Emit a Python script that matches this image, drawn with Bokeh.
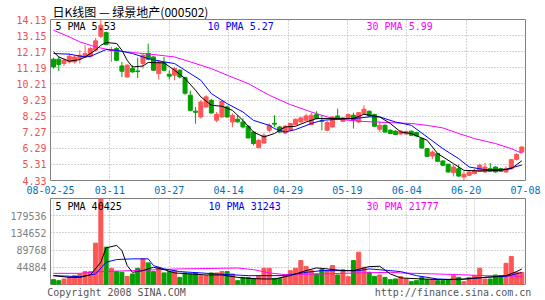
from bokeh.plotting import figure
from bokeh.models import (Range1d, FixedTicker, Label, Grid, LinearAxis,
                          PrintfTickFormatter, CustomJSTickFormatter)
from bokeh.layouts import column
from bokeh.embed import file_html
from bokeh.resources import INLINE

title_text = "日K线图 — 绿景地产(000502)"
footer_texts = ["Copyright 2008 SINA.COM", "http://finance.sina.com.cn"]
date_labels = ["08-02-25", "03-11", "03-27", "04-14", "04-29", "05-19", "06-04", "06-20", "07-08"]
price_ticks = [4.33, 5.31, 6.29, 7.27, 8.25, 9.23, 10.21, 11.19, 12.17, 13.15, 14.13]
volume_ticks = [44884, 89768, 134652, 179536]
volume_max = 224420
price_legend = ["5 PMA 5.53", "10 PMA 5.27", "30 PMA 5.99"]
volume_legend = ["5 PMA 40425", "10 PMA 31243", "30 PMA 21777"]

opens = [11.71, 11.71, 11.45, 11.55, 11.55, 11.75, 11.85, 11.89, 12.26, 13.11,
         13.33, 12.22, 12.36, 11.30, 10.63, 11.14, 11.00, 11.45, 12.06, 11.85,
         10.84, 11.49, 10.80, 10.74, 11.04, 10.60, 9.52, 8.55, 8.20, 8.81,
         9.21, 8.00, 8.20, 8.81, 7.89, 8.06, 7.89, 7.63, 7.28, 6.33,
         6.61, 7.39, 7.82, 7.59, 7.22, 7.39, 7.73, 7.89, 8.00, 7.73,
         8.34, 7.95, 7.39, 7.59, 8.26, 7.93, 8.10, 8.30, 7.89, 8.40,
         8.54, 8.34, 7.45, 7.69, 7.39, 7.33, 7.16, 7.16, 7.33, 7.25,
         6.88, 6.27, 5.82, 5.97, 5.52, 5.32, 4.81, 5.05, 4.54, 4.65,
         4.75, 4.89, 4.85, 5.05, 5.15, 5.05, 4.85, 5.05, 5.62, 6.06]
highs = [11.80, 11.89, 11.75, 12.06, 11.95, 12.26, 12.56, 12.45, 13.00, 14.13,
         13.40, 12.46, 12.45, 11.55, 11.40, 11.35, 11.81, 12.06, 12.66, 11.90,
         11.65, 11.85, 11.04, 11.24, 11.10, 10.65, 9.80, 8.80, 9.21, 9.52,
         9.30, 8.50, 9.21, 8.90, 8.42, 8.30, 8.10, 7.70, 7.35, 6.85,
         7.20, 7.81, 8.30, 7.65, 7.70, 7.85, 8.10, 8.20, 8.40, 8.46,
         8.54, 8.30, 7.95, 8.25, 8.71, 8.20, 8.40, 8.46, 8.50, 8.91,
         8.60, 8.40, 7.93, 7.75, 7.45, 7.40, 7.40, 7.38, 7.38, 7.30,
         6.92, 6.30, 6.16, 6.00, 5.55, 5.35, 5.30, 5.30, 4.90, 4.95,
         5.05, 5.35, 5.40, 5.40, 5.20, 5.10, 5.20, 5.65, 6.00, 6.40]
lows = [11.14, 10.98, 11.30, 11.45, 11.45, 11.45, 11.80, 11.80, 12.20, 13.00,
        12.55, 11.55, 11.60, 10.63, 10.60, 10.90, 10.57, 11.14, 11.65, 11.00,
        10.47, 10.98, 10.47, 10.43, 10.55, 9.55, 8.55, 7.79, 8.10, 8.75,
        8.40, 7.87, 8.15, 8.15, 7.57, 7.85, 7.50, 6.90, 6.47, 6.30,
        6.60, 7.26, 7.59, 7.20, 7.15, 7.35, 7.70, 7.85, 7.95, 7.70,
        8.05, 7.39, 7.35, 7.55, 8.00, 7.90, 8.05, 7.49, 7.85, 8.35,
        8.20, 7.60, 7.28, 7.25, 7.15, 7.10, 7.12, 7.10, 7.05, 7.00,
        6.28, 5.75, 5.63, 5.45, 5.20, 4.80, 4.58, 4.55, 4.33, 4.60,
        4.70, 4.85, 4.80, 4.85, 4.80, 4.85, 4.80, 5.00, 5.55, 6.00]
closes = [11.24, 11.39, 11.65, 11.89, 11.85, 11.95, 12.06, 12.36, 12.83, 13.78,
          12.61, 12.28, 11.65, 10.98, 11.35, 10.94, 10.96, 11.95, 11.71, 11.04,
          11.55, 11.04, 10.68, 11.14, 10.63, 9.64, 8.60, 8.48, 9.11, 9.42,
          8.44, 8.36, 9.15, 8.20, 8.30, 7.90, 7.59, 6.92, 6.58, 6.78,
          7.08, 7.69, 7.76, 7.28, 7.63, 7.80, 8.06, 8.14, 8.26, 8.30,
          8.10, 7.93, 7.86, 8.20, 8.06, 8.14, 8.34, 8.00, 8.46, 8.67,
          8.26, 7.63, 7.69, 7.28, 7.19, 7.13, 7.33, 7.31, 7.08, 7.04,
          6.31, 5.80, 6.06, 5.50, 5.26, 4.85, 5.15, 4.60, 4.71, 4.85,
          4.95, 5.26, 5.15, 4.89, 4.85, 4.89, 5.05, 5.60, 5.91, 6.37]
volumes = [12600, 10000, 14400, 18600, 23100, 27600, 33600, 33600, 107900, 224420,
           97400, 42300, 33600, 31800, 21300, 27600, 42300, 66900, 56400, 33600,
           44900, 30200, 33600, 36200, 18600, 30200, 27600, 30200, 23100, 23100,
           30200, 30200, 33600, 33600, 27600, 10000, 18600, 18600, 16000, 23100,
           42300, 42300, 16000, 16000, 24900, 36200, 42300, 62500, 46700, 36200,
           27600, 38900, 36200, 49400, 24900, 38900, 20500, 62500, 84300, 44900,
           31800, 21300, 24900, 18600, 12600, 14400, 20500, 14400, 7400, 10000,
           18600, 12600, 12600, 10000, 10000, 12600, 23100, 18600, 7400, 18600,
           23100, 42300, 14400, 14400, 24900, 23100, 55400, 73000, 31800, 31800]

ma5_x = [0, 1, 3, 5, 6, 8, 9, 10, 12, 13, 14, 15, 17, 18, 21, 23, 25, 27, 28, 30,
         32, 34, 36, 38, 40, 42, 44, 46, 48, 50, 54, 57, 59, 62, 64, 66, 68, 71,
         73, 76, 78, 81, 85, 87, 89]
ma5_v = [12.16, 11.85, 11.59, 11.69, 11.85, 12.26, 12.56, 12.73, 12.67, 12.26,
         11.65, 11.24, 11.30, 11.51, 11.49, 11.04, 10.54, 9.82, 9.42, 8.91,
         8.85, 8.60, 7.99, 7.28, 6.98, 7.19, 7.59, 7.63, 7.89, 8.10, 8.10,
         8.10, 8.36, 8.20, 7.80, 7.28, 7.19, 6.78, 5.97, 5.36, 4.95, 4.91,
         4.95, 5.05, 5.53]
ma10_x = [0, 3, 6, 7, 9, 10, 12, 15, 18, 21, 23, 25, 28, 30, 33, 36, 38, 41, 42,
          44, 46, 49, 51, 54, 57, 60, 62, 65, 68, 71, 74, 77, 79, 82, 86, 89]
ma10_v = [12.06, 12.02, 11.85, 11.89, 12.16, 12.30, 12.26, 12.06, 11.75, 11.55,
          11.45, 11.04, 10.43, 9.62, 9.01, 8.50, 7.99, 7.69, 7.49, 7.28, 7.43,
          7.80, 7.99, 8.06, 8.10, 8.20, 8.20, 7.89, 7.69, 6.98, 6.27, 5.66,
          5.15, 4.99, 5.01, 5.27]
ma30_x = [0, 3, 5, 8, 11, 15, 19, 23, 26, 30, 33, 37, 41, 45, 49, 52, 54, 58,
          61, 68, 71, 74, 77, 80, 84, 87, 89]
ma30_v = [13.48, 13.07, 12.77, 12.46, 12.26, 12.12, 12.00, 11.85, 11.55, 11.14,
          10.74, 10.23, 9.52, 8.95, 8.50, 8.20, 8.06, 7.94, 7.89, 7.80, 7.69,
          7.53, 7.19, 6.88, 6.58, 6.27, 5.99]

vma5_x = [0, 3, 5, 7, 9, 10, 12, 13, 14, 15, 17, 19, 21, 23, 26, 29, 32, 35, 37,
          40, 42, 45, 48, 50, 52, 55, 57, 60, 62, 64, 66, 70, 74, 78, 82, 86, 88, 89]
vma5_v = [23100, 18600, 18600, 24900, 58000, 95800, 101900, 88700, 49400, 31800,
          36200, 44900, 38900, 30200, 27600, 24900, 24900, 18600, 16000, 14400,
          14400, 23100, 36200, 43300, 40700, 36200, 36200, 46700, 47600, 27600,
          17100, 14400, 12600, 14400, 18600, 23100, 33600, 40425]
vma10_x = [0, 5, 8, 10, 12, 15, 18, 19, 21, 24, 31, 37, 44, 48, 51, 58, 60, 64,
           66, 69, 73, 77, 82, 86, 89]
vma10_v = [23100, 20500, 27600, 58000, 65100, 66900, 66900, 49400, 40700, 33600,
           27600, 23100, 23100, 31800, 36200, 36200, 40700, 36200, 33600, 23100,
           14400, 12600, 18600, 21300, 31243]
vma30_x = [0, 5, 9, 15, 24, 32, 35, 38, 41, 44, 45, 51, 58, 64, 66, 77, 82, 89]
vma30_v = [29100, 29100, 33600, 36200, 40700, 42300, 43000, 38900, 30200, 25700,
           26500, 27600, 30200, 31800, 30200, 25700, 23100, 21777]

UP = "#ff5555"
DOWN = "#00a000"
MONO = "DejaVu Sans Mono"
W = 545
FRAME_L, FRAME_R = 50, 525
FH1, FH2 = 162, 86

N = len(closes)
xs = list(range(N))
colors = [UP if c >= o else DOWN for o, c in zip(opens, closes)]
tops = [max(o, c) for o, c in zip(opens, closes)]
bots = [min(o, c) for o, c in zip(opens, closes)]

X_LO, X_HI = -0.57, N - 0.3
x_rng = Range1d(X_LO, X_HI)
tick_pos = [X_LO + k * (X_HI - X_LO) / 8 for k in range(9)]


def px_to_x(px):
    return X_LO + (px - FRAME_L) / (FRAME_R - FRAME_L) * (X_HI - X_LO)


LOOKUP_JS = """
let best = 0, d = 1e9;
for (let i = 0; i < pos.length; i++) { const dd = Math.abs(pos[i] - tick); if (dd < d) { d = dd; best = i; } }
return labels[best];
"""
date_fmt = CustomJSTickFormatter(args=dict(labels=date_labels, pos=tick_pos), code=LOOKUP_JS)


def plain_axis(ax, color, standoff):
    ax.axis_line_color = None
    ax.major_tick_line_color = None
    ax.minor_tick_line_color = None
    ax.major_tick_out = 0
    ax.major_tick_in = 0
    ax.minor_tick_out = 0
    ax.minor_tick_in = 0
    ax.major_label_standoff = standoff
    ax.major_label_text_color = color
    ax.major_label_text_font = MONO
    ax.major_label_text_font_size = "10px"


def style(fig):
    fig.outline_line_color = "#808080"
    fig.outline_line_width = 1
    fig.background_fill_color = "white"
    fig.border_fill_color = "white"


# ---------- price panel ----------
p = figure(width=W, height=197, x_range=x_rng,
           y_range=Range1d(price_ticks[0], price_ticks[-1]),
           output_backend="svg", toolbar_location=None,
           min_border_left=FRAME_L, min_border_right=W - FRAME_R,
           min_border_top=18, min_border_bottom=17)
style(p)
p.title.text = title_text
p.title.align = "left"
p.title.offset = 2
p.title.standoff = 0
p.title.text_font = "Noto Sans CJK SC"
p.title.text_font_size = "12px"
p.title.text_font_style = "normal"
p.title.text_color = "black"

p.yaxis.ticker = FixedTicker(ticks=price_ticks)
p.yaxis.formatter = PrintfTickFormatter(format="%.2f")
plain_axis(p.yaxis[0], "#f05050", 4)
p.xaxis.ticker = FixedTicker(ticks=tick_pos)
p.xaxis.formatter = date_fmt
plain_axis(p.xaxis[0], "#0070c0", 5)
for g in (p.xgrid, p.ygrid):
    g.grid_line_color = "#a8a8a8"
    g.grid_line_dash = "1 2"
    g.grid_line_width = 1

p.segment(x0=xs, y0=lows, x1=xs, y1=highs, color=colors, line_width=1)
p.vbar(x=xs, top=tops, bottom=bots, width=0.76, fill_color=colors, line_color=colors, line_width=1)
p.line(ma30_x, ma30_v, color="#ff00ff", line_width=1)
p.line(ma10_x, ma10_v, color="#0000ff", line_width=1)
p.line(ma5_x, ma5_v, color="#000000", line_width=1)

leg_y1 = price_ticks[-1] - 7 * (price_ticks[-1] - price_ticks[0]) / FH1
for txt, xo, col in zip(price_legend, [5, 157, 316], ["black", "#0000ff", "#ff00ff"]):
    p.add_layout(Label(x=xo, y=leg_y1, x_units="screen", y_units="data", text=txt,
                       text_font=MONO, text_font_size="10px",
                       text_baseline="middle", text_color=col))

# ---------- volume panel ----------
v = figure(width=W, height=103, x_range=x_rng, y_range=Range1d(0, volume_max),
           output_backend="svg", toolbar_location=None, x_axis_location=None,
           min_border_left=FRAME_L, min_border_right=W - FRAME_R,
           min_border_top=1, min_border_bottom=16)
style(v)
v.yaxis.ticker = FixedTicker(ticks=volume_ticks)
v.yaxis.formatter = PrintfTickFormatter(format="%d")
plain_axis(v.yaxis[0], "#808080", 4)
v.ygrid.grid_line_color = "#a8a8a8"
v.ygrid.grid_line_dash = "1 2"
v.add_layout(Grid(dimension=0, ticker=FixedTicker(ticks=tick_pos),
                  grid_line_color="#a8a8a8", grid_line_dash="1 2"))

# footer texts placed as the labels of a bottom axis (centres in page pixels)
foot_pos = [px_to_x(116), px_to_x(452.5)]
foot_axis = LinearAxis(ticker=FixedTicker(ticks=foot_pos),
                       formatter=CustomJSTickFormatter(args=dict(labels=footer_texts, pos=foot_pos),
                                                       code=LOOKUP_JS))
plain_axis(foot_axis, "#555555", 2)
v.add_layout(foot_axis, "below")

v.vbar(x=xs, top=volumes, bottom=0, width=0.76, fill_color=colors, line_color=colors, line_width=1)
v.line(vma30_x, vma30_v, color="#ff00ff", line_width=1)
v.line(vma10_x, vma10_v, color="#0000ff", line_width=1)
v.line(vma5_x, vma5_v, color="#000000", line_width=1)

leg_y2 = volume_max - 7.5 * volume_max / FH2
for txt, xo, col in zip(volume_legend, [5, 158, 316], ["black", "#0000ff", "#ff00ff"]):
    v.add_layout(Label(x=xo, y=leg_y2, x_units="screen", y_units="data", text=txt,
                       text_font=MONO, text_font_size="10px",
                       text_baseline="middle", text_color=col))

layout = column(p, v)
open("out.html", "w").write(file_html(layout, INLINE))
